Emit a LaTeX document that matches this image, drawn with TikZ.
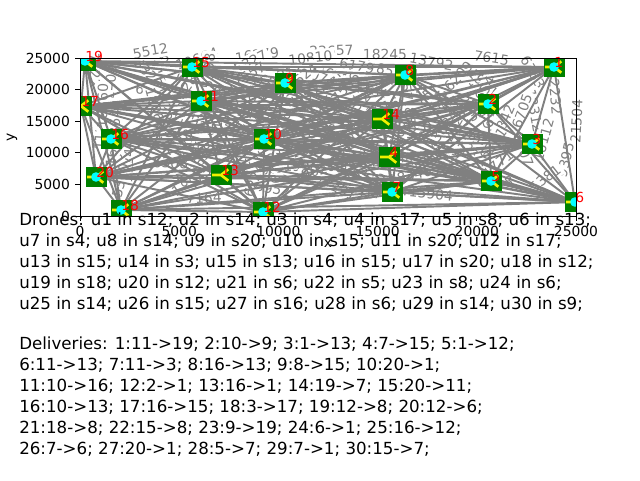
\documentclass[tikz,border=0pt]{standalone}
\usepackage{fontspec}
\setmainfont{DejaVu Sans}
\usetikzlibrary{positioning}
\definecolor{stgreen}{RGB}{0,128,0}
\definecolor{edgegray}{RGB}{128,128,128}
\definecolor{dronecyan}{RGB}{0,255,255}
\definecolor{iconyellow}{RGB}{240,240,0}
% distances that can be read in the plot
\expandafter\def\csname ew1-6\endcsname{21504}
\expandafter\def\csname ew3-6\endcsname{9395}
\expandafter\def\csname ew6-12\endcsname{15904}
\expandafter\def\csname ew15-19\endcsname{5512}
\tikzset{
  link/.style={draw=edgegray, line width=1.45pt},
  ticklab/.style={font=\fontsize{10.4}{12}\selectfont, inner sep=0pt},
  stlabel/.style={text=red, font=\fontsize{10.4}{12}\selectfont, inner sep=0pt, anchor=base west},
  elabel/.style={text=edgegray, fill=white, rounded corners=2pt, font=\fontsize{10.4}{12}\selectfont, inner sep=2pt},
  infoline/.style={font=\fontsize{12.5}{15}\selectfont, inner sep=0pt, anchor=base west},
}

\begin{document}
\begin{tikzpicture}[x=0.75pt,y=-0.75pt]
	\useasboundingbox (0,0) rectangle (640,480);
	% stations (pixel positions of the plot)
	\foreach \i/\px/\py in {1/554/67, 2/488/104, 3/532/144, 4/389/157, 5/491/181,
		6/575/202, 7/392/192, 8/405/75, 9/285/83, 10/264/139,
		11/201/101, 12/263/212, 13/221/175, 14/382/119, 15/192/67,
		16/111/139, 17/81/106, 18/121/210, 19/85/61, 20/96/177}{
		\coordinate (s\i) at (\px,\py);
		\expandafter\xdef\csname px\i\endcsname{\px}
		\expandafter\xdef\csname py\i\endcsname{\py}
	}
	% distance labels (under the links)
	\foreach \i in {1,...,19}{
		\pgfmathtruncatemacro{\k}{\i+1}
		\foreach \j in {\k,...,20}{
			\edef\ddx{\fpeval{(\csname px\j\endcsname-\csname px\i\endcsname)*50.4}}
			\edef\ddy{\fpeval{(\csname py\i\endcsname-\csname py\j\endcsname)*158.2}}
			\edef\ang{\fpeval{-atand(\ddy,\ddx)}}
			\edef\ang{\fpeval{round((\ang>90) ? (\ang-180) : ((\ang<-90) ? (\ang+180) : (\ang)),1)}}
			\edef\dist{\fpeval{round(sqrt((\ddx)^2+(\ddy)^2))}}
			\ifcsname ew\i-\j\endcsname \edef\dist{\csname ew\i-\j\endcsname}\fi
			\node[elabel, rotate=\ang] (w\i-\j) at ({(\csname px\i\endcsname+\csname px\j\endcsname)/2+12},{(\csname py\i\endcsname+\csname py\j\endcsname)/2-13}) {\dist};
		}
	}
	% all links
	\foreach \i in {1,...,19}{
		\pgfmathtruncatemacro{\k}{\i+1}
		\foreach \j in {\k,...,20}
			\draw[link] (s\i) -- (s\j);
	}
	% station icons and drones, cut at the frame
	\begin{scope}
		\clip (80,58) rectangle (576,216);
		\foreach \i in {1,...,20}{
			\fill[stgreen] (s\i) ++(-10.5,-10) rectangle ++(21,20);
			\draw[iconyellow, line width=2pt] (s\i) -- ++(-9,0) (s\i) -- ++(7.3,-5.7) (s\i) -- ++(7.3,5.7);
		}
		\foreach \i in {1,2,3,5,6,7,8,9,10,11,12,15,16,18,19,20}
			\fill[dronecyan] (s\i) circle[radius=3.6pt];
	\end{scope}
	% station numbers
	\foreach \i in {1,...,20}
		\node[stlabel] (n\i) at (s\i) {\i};
	% frame and ticks
	\draw[line width=0.6pt] (80,58) rectangle (576,216);
	\foreach \tl [count=\c from 0] in {0,5000,10000,15000,20000,25000}{
		\draw[line width=0.6pt] ({80+99.2*\c},216) -- ++(0,4.9)
			node[ticklab, anchor=north, yshift=-3.6pt] (xt\c) {\tl};
		\draw[line width=0.6pt] (80,{216-31.6*\c}) -- ++(-4.9,0)
			node[ticklab, anchor=east, xshift=-3.6pt] (yt\c) {\tl};
	}
	\node[ticklab] (xname) at (328,244) {x};
	\node[ticklab, rotate=90] (yname) at (12,137) {y};
	% text below the plot
	\node[infoline] (dr1) at (19,225) {Drones: u1 in s12; u2 in s14; u3 in s4; u4 in s17; u5 in s8; u6 in s13;};
	\node[infoline] (dr2) at (19,246) {u7 in s4; u8 in s14; u9 in s20; u10 in s15; u11 in s20; u12 in s17;};
	\node[infoline] (dr3) at (19,267) {u13 in s15; u14 in s3; u15 in s13; u16 in s15; u17 in s20; u18 in s12;};
	\node[infoline] (dr4) at (19,288) {u19 in s18; u20 in s12; u21 in s6; u22 in s5; u23 in s8; u24 in s6;};
	\node[infoline] (dr5) at (19,309) {u25 in s14; u26 in s15; u27 in s16; u28 in s6; u29 in s14; u30 in s9;};
	\node[infoline] (dl1) at (19,349) {Deliveries: 1:11->19; 2:10->9; 3:1->13; 4:7->15; 5:1->12;};
	\node[infoline] (dl2) at (19,370) {6:11->13; 7:11->3; 8:16->13; 9:8->15; 10:20->1;};
	\node[infoline] (dl3) at (19,391) {11:10->16; 12:2->1; 13:16->1; 14:19->7; 15:20->11;};
	\node[infoline] (dl4) at (19,412) {16:10->13; 17:16->15; 18:3->17; 19:12->8; 20:12->6;};
	\node[infoline] (dl5) at (19,433) {21:18->8; 22:15->8; 23:9->19; 24:6->1; 25:16->12;};
	\node[infoline] (dl6) at (19,454) {26:7->6; 27:20->1; 28:5->7; 29:7->1; 30:15->7;};
\end{tikzpicture}
\end{document}
